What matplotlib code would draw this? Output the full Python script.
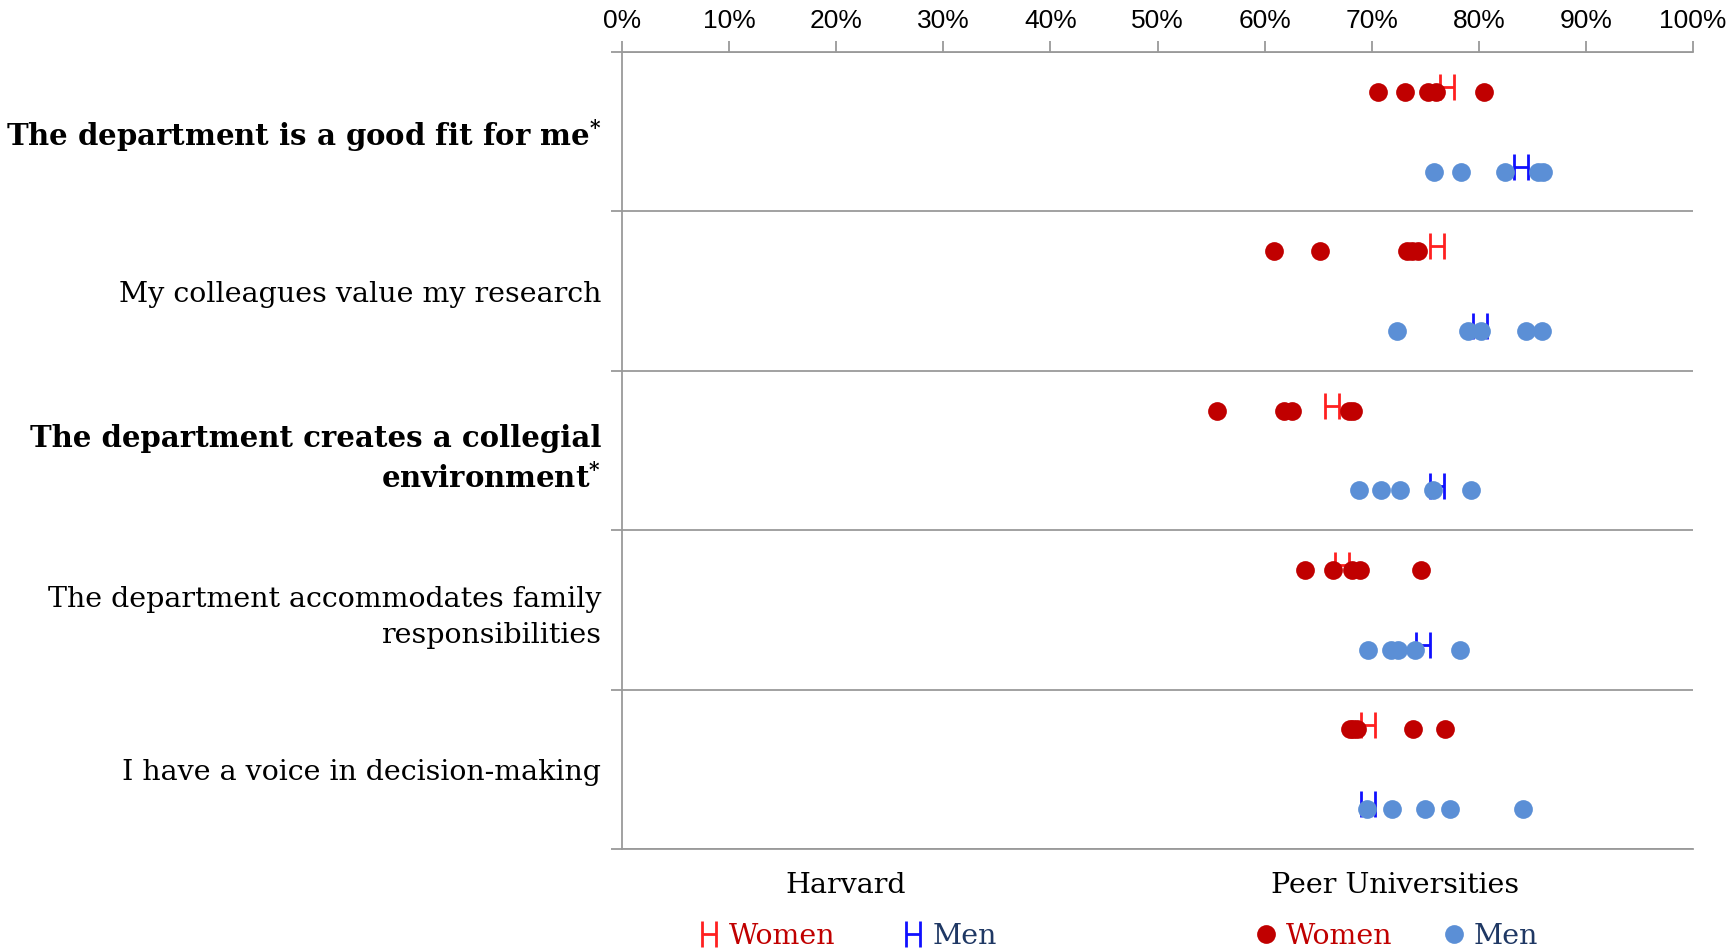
import matplotlib
matplotlib.use("Agg")
import matplotlib.pyplot as plt
import numpy as np
from matplotlib.path import Path
from matplotlib.lines import Line2D
from matplotlib.ticker import PercentFormatter

plt.rcParams["font.family"] = ["DejaVu Serif"]
plt.rcParams["mathtext.fontset"] = "dejavuserif"

categories = [
    "The department is a good fit for me$^{\\mathbf{*}}$",
    "My colleagues value my research",
    "The department creates a collegial\nenvironment$^{\\mathbf{*}}$",
    "The department accommodates family\nresponsibilities",
    "I have a voice in decision-making",
]
bold_rows = [True, False, True, False, False]

# Harvard values (percent agreeing)
harvard_women = [77.0, 76.1, 66.3, 67.2, 69.7]
harvard_men = [83.9, 80.1, 76.1, 74.8, 69.7]

# peer universities (five schools per item)
peer_women = [
    [70.6, 73.1, 75.3, 76.0, 80.5],
    [60.9, 65.2, 73.3, 73.8, 74.3],
    [55.6, 61.8, 62.6, 67.9, 68.3],
    [63.8, 66.4, 68.2, 68.9, 74.6],
    [68.0, 68.3, 68.6, 73.9, 76.8],
]
peer_men = [
    [75.8, 78.3, 82.4, 85.5, 86.0],
    [72.4, 79.0, 80.2, 84.4, 85.9],
    [68.8, 70.9, 72.6, 75.7, 79.3],
    [69.7, 71.8, 72.5, 74.0, 78.2],
    [69.6, 71.9, 75.0, 77.3, 84.1],
]

dark_red = "#C00000"
light_blue = "#5B8FD6"
grid_gray = "#9A9A9A"

# "H" marker drawn as a path
h_marker = Path(
    [(-0.27, -0.5), (-0.27, 0.5), (0.27, -0.5), (0.27, 0.5), (-0.27, 0.0), (0.27, 0.0)],
    [Path.MOVETO, Path.LINETO, Path.MOVETO, Path.LINETO, Path.MOVETO, Path.LINETO],
)
h_style = dict(linestyle="none", marker=h_marker, markersize=19, markeredgewidth=2.0)

fig = plt.figure(figsize=(17.29, 9.51), dpi=100)
ax = fig.add_axes([622 / 1729, 1 - 849 / 951, (1693 - 622) / 1729, (849 - 52) / 951])

n = len(categories)
y = np.arange(n)

# Harvard marks first, peer dots on top
ax.plot(harvard_women, y + 0.22, color="#FF2020", zorder=3, **h_style)
ax.plot(harvard_men, y + 0.72, color="#1010FF", zorder=3, **h_style)

for i in range(n):
    ax.plot(peer_women[i], np.full(len(peer_women[i]), i + 0.25), "o", color=dark_red,
            markersize=13.5, markeredgewidth=0, zorder=4)
    ax.plot(peer_men[i], np.full(len(peer_men[i]), i + 0.75), "o", color=light_blue,
            markersize=13.5, markeredgewidth=0, zorder=4)

ax.set_xlim(0, 100)
ax.set_ylim(n, 0)
ax.set_xticks(np.arange(0, 101, 10))
ax.xaxis.set_major_formatter(PercentFormatter(100, decimals=0))
ax.xaxis.tick_top()
ax.tick_params(axis="x", which="major", direction="out", length=8, width=1.3,
               color=grid_gray, labelsize=19, pad=6)
for lab in ax.get_xticklabels():
    lab.set_fontfamily(["Liberation Sans", "DejaVu Sans"])

ax.set_yticks(np.arange(0, n + 1))
ax.set_yticklabels([])
ax.set_yticks(y + 0.5, minor=True)
ax.set_yticklabels(categories, minor=True)
ax.tick_params(axis="y", which="major", direction="out", length=8, width=1.3, color=grid_gray)
ax.tick_params(axis="y", which="minor", length=0, pad=15, labelsize=20.5)
for lab, b in zip(ax.get_yticklabels(minor=True), bold_rows):
    lab.set_fontweight("bold" if b else "normal")
    if b:
        lab.set_fontsize(21)
    lab.set_linespacing(1.45)

ax.grid(axis="y", which="major", color=grid_gray, linewidth=1.3)
ax.set_axisbelow(True)
for side in ["top", "bottom", "left"]:
    ax.spines[side].set_color(grid_gray)
    ax.spines[side].set_linewidth(1.3)
ax.spines["right"].set_visible(False)

# legends
harvard_handles = [
    Line2D([], [], color="#FF2020", **h_style),
    Line2D([], [], color="#1010FF", **h_style),
]
peer_handles = [
    Line2D([], [], linestyle="none", marker="o", markersize=13.5, markeredgewidth=0, color=dark_red),
    Line2D([], [], linestyle="none", marker="o", markersize=13.5, markeredgewidth=0, color=light_blue),
]
text_colors = [dark_red, "#1F3864"]

leg1 = fig.legend(harvard_handles, ["Women", "Men"], title="Harvard", ncol=2,
                  loc="upper center", bbox_to_anchor=(846 / 1729, 1 - 872 / 951),
                  frameon=False, fontsize=20.5, title_fontsize=20.5, handlelength=1.0,
                  handletextpad=0.2, columnspacing=2.2, borderpad=0, borderaxespad=0,
                  labelspacing=0.85)
leg2 = fig.legend(peer_handles, ["Women", "Men"], title="Peer Universities", ncol=2,
                  loc="upper center", bbox_to_anchor=(1395 / 1729, 1 - 872 / 951),
                  frameon=False, fontsize=20.5, title_fontsize=20.5, handlelength=1.0,
                  handletextpad=0.2, columnspacing=1.65, borderpad=0, borderaxespad=0,
                  labelspacing=0.85)
for leg in (leg1, leg2):
    for t, c in zip(leg.get_texts(), text_colors):
        t.set_color(c)

fig.savefig("out.png", dpi=100)
